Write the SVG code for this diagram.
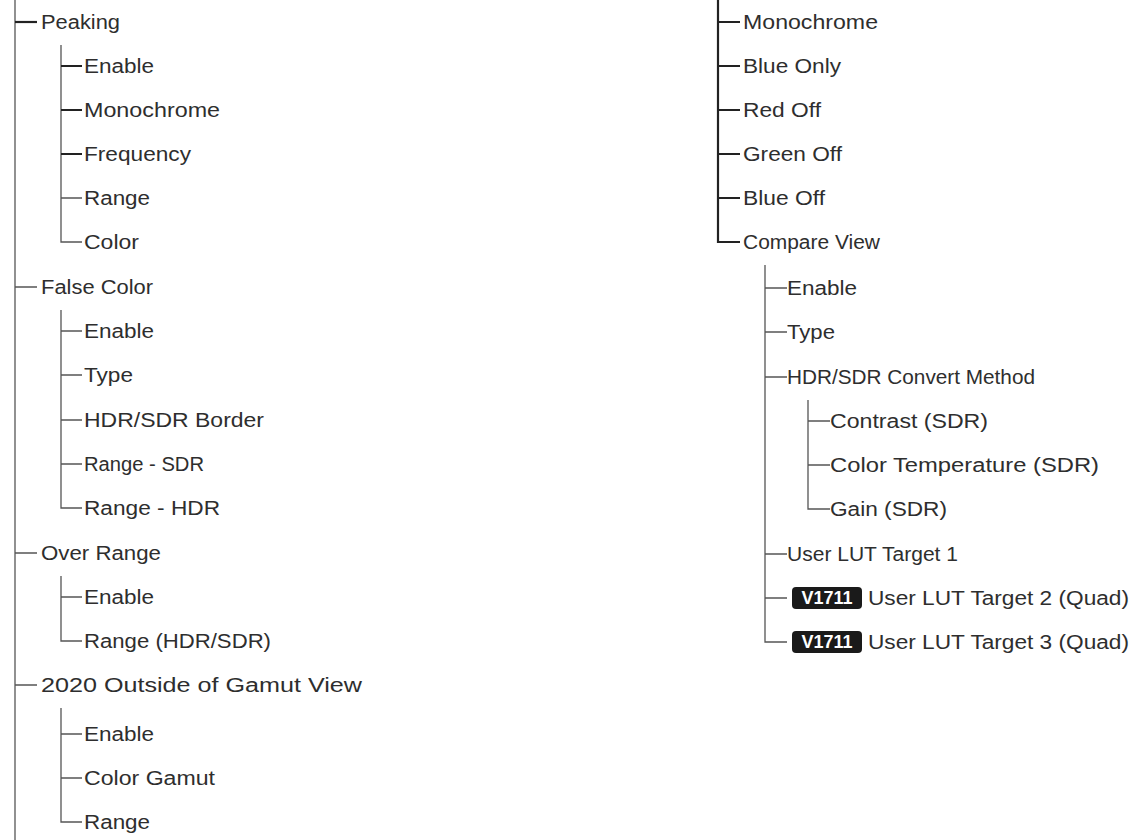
<svg xmlns="http://www.w3.org/2000/svg" width="1134" height="840" viewBox="0 0 1134 840">
<style>
text{font-family:"Liberation Sans",Arial,sans-serif;font-size:20px;fill:#2e2e2e;dominant-baseline:central}
.l{stroke:#555;stroke-width:1.3;fill:none}
.b{stroke:#222;stroke-width:2.2;fill:none}
.badge{fill:#1a1a1a}
.bt{fill:#fff;font-weight:bold;font-size:18px}
</style>
<rect width="1134" height="840" fill="#fff"/>
<g id="connectors">
<path class="l" d="M15 0V840"/>
<path class="b" d="M15 22H37"/>
<path class="l" d="M61 45V242H82"/>
<path class="b" d="M61 66H82M61 110H82M61 154H82"/>
<path class="l" d="M61 198H82M15 287H37M61 310V508H82M61 331H82M61 375H82M61 420H82M61 464H82"/>
<path class="l" d="M15 553H37M61 576V641H82M61 597H82M15 685H37M61 708V822H82M61 734H82M61 778H82"/>
<path class="b" d="M718 0V242H740M718 22H740M718 66H740M718 110H740M718 154H740M718 198H740"/>
<path class="l" d="M765 265V642H787M765 288H787M765 332H787M765 377H787M765 554H787M765 598H787"/>
<path class="l" d="M808 400V509H830M808 421H830M808 465H830"/>
</g>
<g id="left">
<text x="41" y="22" textLength="79" lengthAdjust="spacingAndGlyphs">Peaking</text>
<text x="84" y="66" textLength="70" lengthAdjust="spacingAndGlyphs">Enable</text>
<text x="84" y="110" textLength="136" lengthAdjust="spacingAndGlyphs">Monochrome</text>
<text x="84" y="154" textLength="107" lengthAdjust="spacingAndGlyphs">Frequency</text>
<text x="84" y="198" textLength="66" lengthAdjust="spacingAndGlyphs">Range</text>
<text x="84" y="242" textLength="55" lengthAdjust="spacingAndGlyphs">Color</text>
<text x="41" y="287" textLength="112" lengthAdjust="spacingAndGlyphs">False Color</text>
<text x="84" y="331" textLength="70" lengthAdjust="spacingAndGlyphs">Enable</text>
<text x="84" y="375" textLength="49" lengthAdjust="spacingAndGlyphs">Type</text>
<text x="84" y="420" textLength="180" lengthAdjust="spacingAndGlyphs">HDR/SDR Border</text>
<text x="84" y="464" textLength="120" lengthAdjust="spacingAndGlyphs">Range - SDR</text>
<text x="84" y="508" textLength="136" lengthAdjust="spacingAndGlyphs">Range - HDR</text>
<text x="41" y="553" textLength="120" lengthAdjust="spacingAndGlyphs">Over Range</text>
<text x="84" y="597" textLength="70" lengthAdjust="spacingAndGlyphs">Enable</text>
<text x="84" y="641" textLength="187" lengthAdjust="spacingAndGlyphs">Range (HDR/SDR)</text>
<text x="41" y="685" textLength="321" lengthAdjust="spacingAndGlyphs">2020 Outside of Gamut View</text>
<text x="84" y="734" textLength="70" lengthAdjust="spacingAndGlyphs">Enable</text>
<text x="84" y="778" textLength="131" lengthAdjust="spacingAndGlyphs">Color Gamut</text>
<text x="84" y="822" textLength="66" lengthAdjust="spacingAndGlyphs">Range</text>
</g>
<g id="right">
<text x="743" y="22" textLength="135" lengthAdjust="spacingAndGlyphs">Monochrome</text>
<text x="743" y="66" textLength="98" lengthAdjust="spacingAndGlyphs">Blue Only</text>
<text x="743" y="110" textLength="78" lengthAdjust="spacingAndGlyphs">Red Off</text>
<text x="743" y="154" textLength="99" lengthAdjust="spacingAndGlyphs">Green Off</text>
<text x="743" y="198" textLength="82" lengthAdjust="spacingAndGlyphs">Blue Off</text>
<text x="743" y="242" textLength="137" lengthAdjust="spacingAndGlyphs">Compare View</text>
<text x="787" y="288" textLength="70" lengthAdjust="spacingAndGlyphs">Enable</text>
<text x="787" y="332" textLength="48" lengthAdjust="spacingAndGlyphs">Type</text>
<text x="787" y="377" textLength="248" lengthAdjust="spacingAndGlyphs">HDR/SDR Convert Method</text>
<text x="830" y="421" textLength="158" lengthAdjust="spacingAndGlyphs">Contrast (SDR)</text>
<text x="830" y="465" textLength="269" lengthAdjust="spacingAndGlyphs">Color Temperature (SDR)</text>
<text x="830" y="509" textLength="117" lengthAdjust="spacingAndGlyphs">Gain (SDR)</text>
<text x="787" y="554" textLength="171" lengthAdjust="spacingAndGlyphs">User LUT Target 1</text>
<g id="t2"><rect class="badge" x="792" y="587" width="70" height="22" rx="4"/><text class="bt" x="827" y="598" text-anchor="middle">V1711</text><text x="868" y="598" textLength="261" lengthAdjust="spacingAndGlyphs">User LUT Target 2 (Quad)</text></g>
<g id="t3"><rect class="badge" x="792" y="631" width="70" height="22" rx="4"/><text class="bt" x="827" y="642" text-anchor="middle">V1711</text><text x="868" y="642" textLength="261" lengthAdjust="spacingAndGlyphs">User LUT Target 3 (Quad)</text></g>
</g>
</svg>
